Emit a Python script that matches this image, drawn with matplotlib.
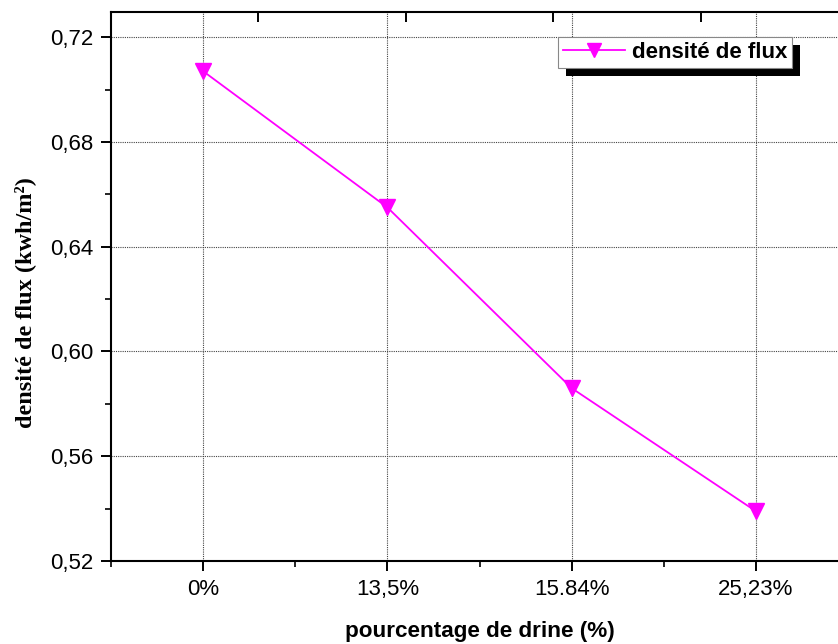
import matplotlib
matplotlib.use("Agg")
import matplotlib.pyplot as plt
import matplotlib.patheffects as pe
from matplotlib.ticker import FixedLocator, MultipleLocator, FuncFormatter, NullFormatter

# Data
categories = ["0%", "13,5%", "15.84%", "25,23%"]
flux_density = [0.707, 0.655, 0.586, 0.539]
y_ticks = [0.52, 0.56, 0.60, 0.64, 0.68, 0.72]
series_label = "densité de flux"

W, H = 838, 644
fig = plt.figure(figsize=(W / 100, H / 100), dpi=100)

# axes box in pixels (right edge runs past the canvas)
left, right, top, bottom = 111, 848, 12, 561
ax = fig.add_axes([left / W, 1 - bottom / H, (right - left) / W, (bottom - top) / H])

x = list(range(len(categories)))
magenta = "#ff00ff"
ax.plot(x, flux_density, color=magenta, lw=1.3, marker="v", ms=12,
        mfc=magenta, mec=magenta, label=series_label, zorder=5)

ax.set_xlim(-0.5, 3.5)
ax.set_ylim(0.52, 0.7296)

ax.xaxis.set_major_locator(FixedLocator(x))
ax.set_xticklabels(categories)
ax.xaxis.set_minor_locator(FixedLocator([i + 0.5 for i in range(-1, len(categories))]))
ax.yaxis.set_major_locator(FixedLocator(y_ticks))
ax.yaxis.set_minor_locator(MultipleLocator(0.02))
ax.yaxis.set_major_formatter(FuncFormatter(lambda v, p: f"{v:.2f}".replace(".", ",")))

for lab in ax.get_xticklabels() + ax.get_yticklabels():
    lab.set_fontfamily("Liberation Sans")
    lab.set_fontsize(16)

ax.tick_params(which="major", direction="out", length=7, width=1.4, pad=6, colors="black")
ax.tick_params(which="minor", direction="out", length=4, width=1.2, colors="black")
ax.tick_params(axis="y", which="both", right=False)
ax.tick_params(axis="x", which="both", top=False)

ax.grid(True, which="major", color="#444444", lw=0.8, linestyle=(0, (1, 1)))
ax.set_axisbelow(True)

for side in ["left", "bottom", "top"]:
    ax.spines[side].set_linewidth(1.5)
ax.spines["right"].set_visible(False)

# secondary top axis with inward ticks
tx = ax.twiny()
tx.set_xlim(0, 5)
tx.xaxis.set_major_locator(FixedLocator([1, 2, 3, 4]))
tx.xaxis.set_major_formatter(NullFormatter())
tx.tick_params(axis="x", direction="in", length=7, width=1.4, top=True, labeltop=False)
for s in tx.spines.values():
    s.set_visible(False)

ax.set_ylabel("densité de flux (kwh/m²)", family="Liberation Serif", weight="bold",
              fontsize=17.5, va="center", ha="center")
ax.yaxis.set_label_coords((25 - left) / (right - left), (bottom - 303) / (bottom - top))

ax.set_xlabel("pourcentage de drine (%)", family="Liberation Sans", weight="bold",
              fontsize=16.2, va="center", ha="center")
ax.xaxis.set_label_coords((480 - left) / (right - left), (bottom - 631) / (bottom - top))

leg = ax.legend(loc="upper left", bbox_to_anchor=(558 / W, 1 - 37 / H),
                bbox_transform=fig.transFigure, borderaxespad=0, fancybox=False,
                framealpha=1, edgecolor="#888888", handlelength=2.8,
                handletextpad=0.3, borderpad=0.22, markerscale=0.85,
                prop=dict(family="Liberation Sans", weight="bold", size=16))
frame = leg.get_frame()
frame.set_linewidth(0.8)
frame.set_path_effects([pe.SimplePatchShadow(offset=(6, -6), shadow_rgbFace="black", alpha=1),
                        pe.Normal()])
leg.set_zorder(10)

fig.savefig("out.png", dpi=100)
